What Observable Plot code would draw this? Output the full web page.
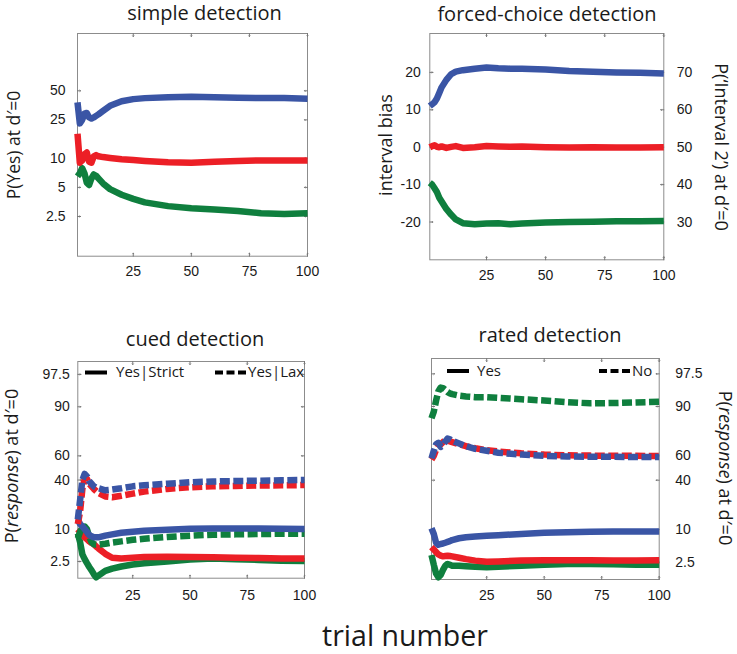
<!DOCTYPE html>
<html><head><meta charset="utf-8">
<script src="https://cdn.jsdelivr.net/npm/d3@7"></script>
<script src="https://cdn.jsdelivr.net/npm/@observablehq/plot@0.6"></script>
<style>
body{margin:0;background:#fff;}
#fig{position:relative;width:737px;height:654px;background:#fff;overflow:hidden;}
#overlay{position:absolute;left:0;top:0;pointer-events:none;}
#overlay text{font-family:"Open Sans",sans-serif;fill:#1a1a1a;}
</style></head>
<body><div id="fig"></div>
<script>
// ---------- data ----------
const xTicks = [25, 50, 75, 100];
const colors = {blue: "#3a55a5", red: "#ec1f26", green: "#0f7f3e"};

// simple detection (P(Yes) %, log axis)
const simpleTrials = [1,2,3,4,5,6,7,8,9,10,12,15,20,25,30,40,50,60,70,80,90,100];
const simpleBlue  = [38,23,25,29,29.5,26.5,25.8,26.5,27.5,28.5,31,35,39,41,42,43,43.5,43,42.5,42,42,41.5];
const simpleRed   = [18,9,9.5,11,11.5,9.2,9,10.5,10.8,10.5,10.3,10.1,9.8,9.6,9.4,9.1,9.0,9.2,9.4,9.5,9.5,9.5];
const simpleGreen = [6.5,7,7.9,7,5.6,5.3,6.2,6.8,6.6,6.2,5.5,4.8,4.2,3.8,3.5,3.2,3.05,2.95,2.85,2.7,2.65,2.7];
const simpleTicks = [2.5, 5, 10, 25, 50];

// forced-choice detection (interval bias)
const fcTrials = [1,2,3,4,5,6,8,10,12,15,20,25,30,35,40,50,60,70,80,90,100];
const fcBlue  = [11,11.5,12,13,14.5,16,18,19.5,20.2,20.6,21,21.3,21.1,21,21,20.8,20.4,20.2,20,19.9,19.7];
const fcRed   = [0,0.3,0.5,0.1,0,0.2,-0.2,0.1,0.3,-0.2,0,0.3,0.2,0.1,0.2,0,-0.1,0,-0.1,-0.1,0];
const fcGreen = [-9.5,-10,-11,-12,-13.5,-14.5,-16.5,-18,-19.3,-20.3,-20.6,-20.4,-20.3,-20.6,-20.4,-20.1,-20,-19.9,-19.8,-19.8,-19.7];
const fcLeftTicks  = [-20, -10, 0, 10, 20];
const fcRightTicks = [30, 40, 50, 60, 70];

// cued detection (P(response) %, probit axis)
const cuedTrials = [1,2,3,4,5,6,7,8,9,10,13,16,20,25,30,40,50,60,70,80,90,100];
const cuedRedLax    = [12,18,33,41,41,37,35,33,31.5,30,27.5,27,28,29.5,31,33,34.3,35,35.3,35.6,35.8,36];
const cuedBlueLax   = [14,25,40,45,43,39,37,35,34,33.5,32,32.5,33.5,35,35.8,37,38.2,38.8,39.2,39.5,39.8,40];
const cuedGreenLax  = [7,9,10.5,11,10,7.5,6,5.5,5.4,5.4,5.6,5.9,6.2,6.6,6.9,7.4,7.8,8.1,8.2,8.3,8.4,8.4];
const cuedBlueStrict  = [14,12,11,10,9,8,7.6,7.3,7.3,7.3,7.8,8.2,8.7,9.1,9.4,9.8,10.1,10.2,10.2,10.2,10.1,10];
const cuedRedStrict   = [10,9,8,7.3,6.8,6.2,5.8,5.5,5.0,4.6,3.6,3.0,2.9,3.0,3.1,3.15,3.1,3.05,3.0,2.95,2.9,2.9];
const cuedGreenStrict = [8.5,6,3.5,2.8,2.3,1.9,1.6,1.3,1.1,1.2,1.55,1.75,1.95,2.15,2.3,2.5,2.75,2.9,2.8,2.7,2.6,2.55];

// rated detection (P(response) %, probit axis)
const ratedTrials = [1,2,3,4,5,6,7,8,9,10,13,16,20,25,30,40,50,60,70,80,90,100];
const ratedGreenNo = [85,88,92,94.5,95.3,95.2,94.8,94.3,94,93.8,93.4,93.2,93,93,92.8,92.4,92,91.5,91.1,91.2,91.4,91.6];
const ratedRedNo   = [57,60,65,68,69,70.5,72,71.5,71,70.5,69,67.5,66,64.5,63.5,62,61,60.5,60.2,60,60,59.8];
const ratedBlueNo  = [58,64,69,70,67,68,71,73,72.5,71.5,69.5,67.5,65.5,64,62.5,61,60,59.5,59.3,59.2,59.1,59];
const ratedBlueYes  = [10.5,8.5,6,5.5,5.7,5.8,6.0,6.2,6.4,6.7,7.2,7.5,7.7,7.9,8.1,8.5,8.9,9.1,9.2,9.3,9.3,9.3];
const ratedRedYes   = [5,4.5,4,3.6,3.4,3.3,3.35,3.4,3.35,3.3,3.1,2.9,2.7,2.55,2.6,2.7,2.75,2.75,2.75,2.7,2.7,2.75];
const ratedGreenYes = [3.5,2.2,1.4,1.15,1.3,1.7,2.1,2.3,2.2,2.1,2.1,2.05,2.0,1.95,2.0,2.1,2.2,2.3,2.3,2.25,2.2,2.2];

const probTicks = [2.5, 10, 40, 60, 90, 97.5];

// ---------- helpers ----------
function probit(p){
  const a=[-3.969683028665376e+01,2.209460984245205e+02,-2.759285104469687e+02,1.383577518672690e+02,-3.066479806614716e+01,2.506628277459239e+00];
  const b=[-5.447609879822406e+01,1.615858368580409e+02,-1.556989798598866e+02,6.680131188771972e+01,-1.328068155288572e+01];
  const c=[-7.784894002430293e-03,-3.223964580411365e-01,-2.400758277161838e+00,-2.549732539343734e+00,4.374664141464968e+00,2.938163982698783e+00];
  const d=[7.784695709041462e-03,3.224671290700398e-01,2.445134137142996e+00,3.754408661907416e+00];
  const pl=0.02425, ph=1-pl; let q,r;
  if(p<pl){q=Math.sqrt(-2*Math.log(p));return (((((c[0]*q+c[1])*q+c[2])*q+c[3])*q+c[4])*q+c[5])/((((d[0]*q+d[1])*q+d[2])*q+d[3])*q+1);}
  if(p<=ph){q=p-0.5;r=q*q;return (((((a[0]*r+a[1])*r+a[2])*r+a[3])*r+a[4])*r+a[5])*q/(((((b[0]*r+b[1])*r+b[2])*r+b[3])*r+b[4])*r+1);}
  q=Math.sqrt(-2*Math.log(1-p));return -(((((c[0]*q+c[1])*q+c[2])*q+c[3])*q+c[4])*q+c[5])/((((d[0]*q+d[1])*q+d[2])*q+d[3])*q+1);
}
const z = pct => probit(pct/100);
const probZ = probTicks.map(z);
const probFormat = v => { const i = probZ.findIndex(w => Math.abs(w - v) < 1e-9); return i >= 0 ? String(probTicks[i]) : ""; };

function line(trials, vals, color, dashed, yf){
  return Plot.line(trials.map((t,i)=>({t, v: yf ? yf(vals[i]) : vals[i]})), {
    x: "t", y: "v", stroke: color, strokeWidth: 6.5,
    strokeDasharray: dashed ? "10,3.5" : null, strokeLinejoin: "round", strokeLinecap: "butt"
  });
}
function boxTicks(yt){
  const s = {stroke: "#777", strokeWidth: 1, length: 3, anchor: "start"};
  return [
    Plot.vector(xTicks, {x: d=>d, frameAnchor: "bottom", rotate: 0, ...s}),
    Plot.vector(xTicks, {x: d=>d, frameAnchor: "top", rotate: 180, ...s}),
    Plot.vector(yt, {y: d=>d, frameAnchor: "left", rotate: 90, ...s}),
    Plot.vector(yt, {y: d=>d, frameAnchor: "right", rotate: -90, ...s})
  ];
}
const fig = document.getElementById("fig");
function makePanel({box, frame, y, xPad, marks}){
  const svg = Plot.plot({
    width: box.w, height: box.h,
    marginLeft: frame.x0 - box.x, marginRight: box.x + box.w - frame.x1,
    marginTop: frame.y0 - box.y, marginBottom: box.y + box.h - frame.y1,
    x: {domain: [1, 100]}, y,
    style: {fontFamily: '"Liberation Sans", Arial, sans-serif', fontSize: "14px", color: "#1a1a1a", background: "#fff"},
    marks: [
      Plot.frame({stroke: "#8c8c8c"}),
      Plot.axisX({ticks: xTicks, tickSize: 0, tickPadding: xPad, label: null, tickFormat: d => String(d)}),
      ...marks
    ]
  });
  svg.style.position = "absolute"; svg.style.left = box.x + "px"; svg.style.top = box.y + "px";
  fig.appendChild(svg);
}

// ---------- panels ----------
makePanel({
  box: {x: 0, y: 0, w: 368, h: 300}, frame: {x0: 77, x1: 307, y0: 33, y1: 255.7}, xPad: 10,
  y: {type: "log", domain: [0.97, 196]},
  marks: [
    Plot.axisY({ticks: simpleTicks, tickSize: 0, tickPadding: 12, label: null, tickFormat: d => String(d)}),
    ...boxTicks(simpleTicks),
    line(simpleTrials, simpleGreen, colors.green),
    line(simpleTrials, simpleRed, colors.red),
    line(simpleTrials, simpleBlue, colors.blue)
  ]
});
makePanel({
  box: {x: 368, y: 0, w: 369, h: 300}, frame: {x0: 429.3, x1: 663.3, y0: 33, y1: 259.3}, xPad: 10.5,
  y: {domain: [-30.1, 30.4]},
  marks: [
    Plot.axisY({ticks: fcLeftTicks, tickSize: 0, tickPadding: 9, label: null, tickFormat: d => String(d)}),
    Plot.axisY({anchor: "right", ticks: fcRightTicks.map(p => p - 50), tickSize: 0, tickPadding: 13, label: null, tickFormat: d => String(d + 50)}),
    ...boxTicks(fcLeftTicks),
    line(fcTrials, fcGreen, colors.green),
    line(fcTrials, fcRed, colors.red),
    line(fcTrials, fcBlue, colors.blue)
  ]
});
makePanel({
  box: {x: 0, y: 300, w: 368, h: 320}, frame: {x0: 77.3, x1: 304, y0: 361, y1: 577.7}, xPad: 12,
  y: {domain: [-2.31, 2.23]},
  marks: [
    Plot.axisY({ticks: probZ, tickSize: 0, tickPadding: 8, label: null, tickFormat: probFormat}),
    ...boxTicks(probZ),
    line(cuedTrials, cuedGreenStrict, colors.green, false, z),
    line(cuedTrials, cuedRedStrict, colors.red, false, z),
    line(cuedTrials, cuedGreenLax, colors.green, true, z),
    line(cuedTrials, cuedBlueStrict, colors.blue, false, z),
    line(cuedTrials, cuedRedLax, colors.red, true, z),
    line(cuedTrials, cuedBlueLax, colors.blue, true, z)
  ]
});
makePanel({
  box: {x: 368, y: 300, w: 369, h: 320}, frame: {x0: 431, x1: 658.7, y0: 358, y1: 579}, xPad: 11,
  y: {domain: [-2.32, 2.28]},
  marks: [
    Plot.axisY({anchor: "right", ticks: probZ, tickSize: 0, tickPadding: 16, label: null, tickFormat: probFormat}),
    ...boxTicks(probZ),
    line(ratedTrials, ratedGreenYes, colors.green, false, z),
    line(ratedTrials, ratedRedYes, colors.red, false, z),
    line(ratedTrials, ratedBlueYes, colors.blue, false, z),
    line(ratedTrials, ratedGreenNo, colors.green, true, z),
    line(ratedTrials, ratedRedNo, colors.red, true, z),
    line(ratedTrials, ratedBlueNo, colors.blue, true, z)
  ]
});

// ---------- titles, labels, legends ----------
const NS = "http://www.w3.org/2000/svg";
const ov = document.createElementNS(NS, "svg");
ov.setAttribute("id", "overlay"); ov.setAttribute("width", 737); ov.setAttribute("height", 654);
ov.innerHTML = `
<g font-size="20" text-anchor="middle">
  <text x="204.5" y="19.5">simple detection</text>
  <text x="547" y="20.5">forced-choice detection</text>
  <text x="195" y="345.5">cued detection</text>
  <text x="550" y="342">rated detection</text>
</g>
<g font-size="18" text-anchor="middle">
  <text transform="translate(20,145) rotate(-90)" font-size="17.5">P(Yes) at d′=0</text>
  <text transform="translate(392,145) rotate(-90)">interval bias</text>
  <text transform="translate(714.5,147) rotate(90)">P(‘Interval 2’) at d′=0</text>
  <text transform="translate(18,466) rotate(-90)">P(<tspan font-style="italic">response</tspan>) at d′=0</text>
  <text transform="translate(719,468) rotate(90)">P(<tspan font-style="italic">response</tspan>) at d′=0</text>
</g>
<g font-size="15">
  <line x1="85" x2="107" y1="372.5" y2="372.5" stroke="#000" stroke-width="4"/>
  <text x="116" y="377">Yes|Strict</text>
  <line x1="215" x2="247" y1="372.5" y2="372.5" stroke="#000" stroke-width="4" stroke-dasharray="8,3.5"/>
  <text x="248" y="377">Yes|Lax</text>
  <line x1="447" x2="469" y1="371" y2="371" stroke="#000" stroke-width="4"/>
  <text x="477" y="375.5">Yes</text>
  <line x1="599" x2="631" y1="371" y2="371" stroke="#000" stroke-width="4" stroke-dasharray="8,3.5"/>
  <text x="632" y="375.5">No</text>
</g>
<text x="405" y="645.5" font-size="28.5" text-anchor="middle">trial number</text>
`;
fig.appendChild(ov);
</script>
</body></html>
